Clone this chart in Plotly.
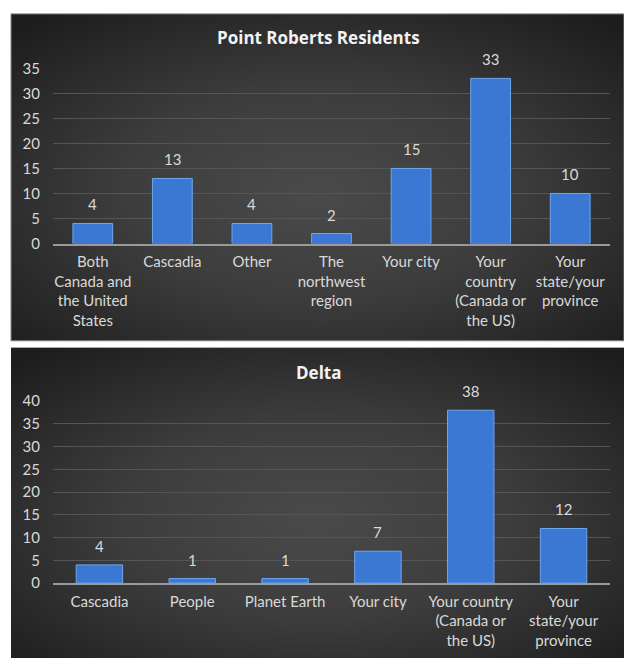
import base64
import plotly.graph_objects as go

# ---- data ----
top_title = "Point Roberts Residents"
top_categories = ["Both Canada and the United States", "Cascadia", "Other",
                  "The northwest region", "Your city",
                  "Your country (Canada or the US)", "Your state/your province"]
top_ticklabels = ["Both<br>Canada and<br>the United<br>States", "Cascadia", "Other",
                  "The<br>northwest<br>region", "Your city",
                  "Your<br>country<br>(Canada or<br>the US)", "Your<br>state/your<br>province"]
top_values = [4, 13, 4, 2, 15, 33, 10]

bot_title = "Delta"
bot_categories = ["Cascadia", "People", "Planet Earth", "Your city",
                  "Your country (Canada or the US)", "Your state/your province"]
bot_ticklabels = ["Cascadia", "People", "Planet Earth", "Your city",
                  "Your country<br>(Canada or<br>the US)", "Your<br>state/your<br>province"]
bot_values = [4, 1, 1, 7, 38, 12]

W, H = 624, 666
FONT = "Lato"
TXT = "#d9d9d9"
BAR = "#3a78d4"
BAR_EDGE = "#6ea6ee"

def px_x(p):
    return p / W

def px_y(p):
    return 1 - p / H

svg = f'''<svg xmlns="http://www.w3.org/2000/svg" width="{W}" height="{H}" viewBox="0 0 {W} {H}">
<defs>
<radialGradient id="g" cx="50%" cy="55%" r="70%">
<stop offset="0%" stop-color="#4a4a4a"/>
<stop offset="45%" stop-color="#3d3d3d"/>
<stop offset="100%" stop-color="#1d1d1d"/>
</radialGradient>
</defs>
<rect x="0" y="0" width="{W}" height="{H}" fill="#ffffff"/>
<rect x="11" y="4" width="613" height="336" fill="url(#g)" stroke="#8a8a8a" stroke-width="1"/>
<rect x="11" y="347" width="613" height="319" fill="url(#g)"/>
</svg>'''
src = "data:image/svg+xml;base64," + base64.b64encode(svg.encode()).decode()

fig = go.Figure()
fig.add_trace(go.Bar(x=top_categories, y=top_values, xaxis="x", yaxis="y",
                     marker=dict(color=BAR, line=dict(color=BAR_EDGE, width=1)),
                     width=0.5, hoverinfo="skip"))
fig.add_trace(go.Bar(x=bot_categories, y=bot_values, xaxis="x2", yaxis="y2",
                     marker=dict(color=BAR, line=dict(color=BAR_EDGE, width=1)),
                     width=0.5, hoverinfo="skip"))

annotations = []
for c, v in zip(top_categories, top_values):
    annotations.append(dict(x=c, y=v, xref="x", yref="y", text=str(v), showarrow=False,
                            yanchor="bottom", yshift=8, font=dict(family=FONT, size=15, color=TXT)))
for c, v in zip(bot_categories, bot_values):
    annotations.append(dict(x=c, y=v, xref="x2", yref="y2", text=str(v), showarrow=False,
                            yanchor="bottom", yshift=8, font=dict(family=FONT, size=15, color=TXT)))
annotations.append(dict(x=px_x(318), y=px_y(28), xref="paper", yref="paper", text=f"<b>{top_title}</b>",
                        showarrow=False, xanchor="center", yanchor="middle",
                        font=dict(family="Open Sans", size=17, color="#f2f2f2")))
annotations.append(dict(x=px_x(318), y=px_y(373), xref="paper", yref="paper", text=f"<b>{bot_title}</b>",
                        showarrow=False, xanchor="center", yanchor="middle",
                        font=dict(family="Open Sans", size=17, color="#f2f2f2")))

xdom = [px_x(53), px_x(610)]
common_x = dict(showgrid=False, zeroline=False, showline=True, linecolor="#9a9a9a", linewidth=1.5,
                ticks="", tickfont=dict(family=FONT, size=15, color=TXT), tickangle=0,
                fixedrange=True, ticklabelstandoff=4)
common_y = dict(showgrid=True, gridcolor="#555555", gridwidth=1, zeroline=False, showline=False,
                ticks="", tickfont=dict(family=FONT, size=15, color=TXT), dtick=5,
                ticklabelstandoff=12, fixedrange=True)

fig.update_layout(
    width=W, height=H,
    margin=dict(l=0, r=0, t=0, b=0),
    paper_bgcolor="#ffffff", plot_bgcolor="rgba(0,0,0,0)",
    showlegend=False, bargap=0.5,
    images=[dict(source=src, xref="paper", yref="paper", x=0, y=1, sizex=1, sizey=1,
                 xanchor="left", yanchor="top", sizing="stretch", layer="below")],
    xaxis=dict(domain=xdom, anchor="y", tickvals=top_categories, ticktext=top_ticklabels, **common_x),
    yaxis=dict(domain=[px_y(240), px_y(60)], anchor="x", range=[0, 35], **common_y),
    xaxis2=dict(domain=xdom, anchor="y2", tickvals=bot_categories, ticktext=bot_ticklabels, **common_x),
    yaxis2=dict(domain=[px_y(589), px_y(402)], anchor="x2", range=[0, 40], **common_y),
    annotations=annotations,
)

fig.write_html("out.html", config={"displayModeBar": False},
               post_script="document.body.style.margin='0';document.body.style.overflow='hidden';")
